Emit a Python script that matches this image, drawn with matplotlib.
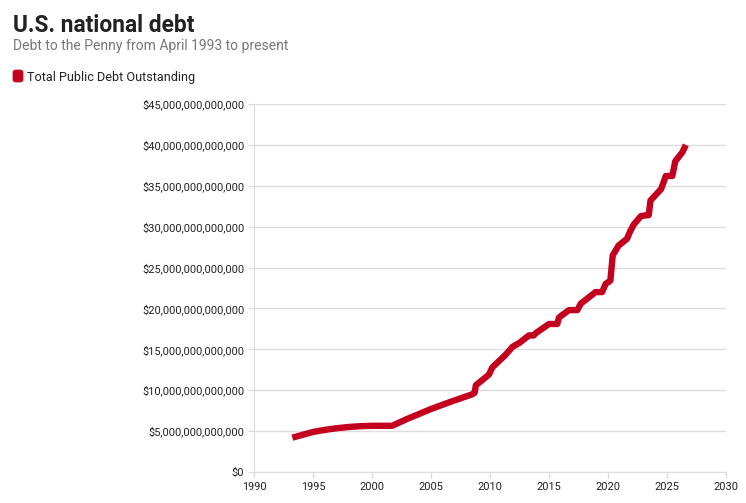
import matplotlib
matplotlib.use("Agg")
import matplotlib.pyplot as plt
from matplotlib.patches import FancyBboxPatch
from matplotlib.ticker import FuncFormatter, MultipleLocator

# Data (year, trillions of dollars)
years = [1993.25, 1995.0, 1996.0, 1997.0, 1998.0, 1999.0, 2000.0, 2001.7, 2003.0,
         2005.0, 2006.8, 2008.5, 2008.7, 2008.8, 2009.9, 2010.2, 2011.3, 2011.9,
         2012.5, 2013.3, 2013.7, 2013.9, 2015.0, 2015.7, 2015.85, 2016.7, 2017.4,
         2017.7, 2018.95, 2019.5, 2019.8, 2020.2, 2020.4, 2020.9, 2021.6, 2021.9,
         2022.2, 2022.8, 2023.3, 2023.45, 2023.6, 2024.5, 2024.9, 2025.45, 2025.7,
         2026.3, 2026.6]
debt_trillions = [4.2, 4.9, 5.15, 5.35, 5.5, 5.6, 5.65, 5.65, 6.5,
                  7.7, 8.66, 9.5, 9.7, 10.6, 11.9, 12.8, 14.3, 15.3,
                  15.8, 16.7, 16.7, 17.0, 18.1, 18.1, 18.9, 19.8, 19.8,
                  20.6, 22.0, 22.0, 23.0, 23.4, 26.5, 27.7, 28.5, 29.5,
                  30.3, 31.3, 31.4, 31.4, 33.2, 34.6, 36.2, 36.2, 38.0,
                  39.1, 40.0]
debt = [v * 1e12 for v in debt_trillions]

title = "U.S. national debt"
subtitle = "Debt to the Penny from April 1993 to present"
series_name = "Total Public Debt Outstanding"

RED = "#c4001f"
FONT = ["Roboto", "DejaVu Sans"]
plt.rcParams["font.family"] = FONT

fig = plt.figure(figsize=(7.46, 5.03), dpi=100)
ax = fig.add_axes([254 / 746, 1 - 472 / 503, (726 - 254) / 746, (472 - 104) / 503])

ax.plot(years, debt, color=RED, lw=4.6, solid_capstyle="butt", solid_joinstyle="round", zorder=3)

ax.set_xlim(1990, 2030)
ax.set_ylim(0, 45e12)
ax.xaxis.set_major_locator(MultipleLocator(5))
ax.yaxis.set_major_locator(MultipleLocator(5e12))
ax.yaxis.set_major_formatter(FuncFormatter(lambda v, p: "$" + format(int(round(v)), ",")))

ax.grid(axis="y", color="#dddddd", lw=1)
ax.set_axisbelow(True)
for s in ["top", "right"]:
    ax.spines[s].set_visible(False)
ax.spines["left"].set_color("#dddddd")
ax.spines["bottom"].set_color("#dddddd")
ax.tick_params(axis="both", color="#dddddd", length=4, width=1, labelsize=7.9, labelcolor="#222222", pad=3)

fig.text(13 / 746, 1 - 32 / 503, title, fontsize=16.4, fontweight="bold", color="#222222", va="baseline")
fig.text(13 / 746, 1 - 50 / 503, subtitle, fontsize=10, color="#777777", va="baseline")

# legend
sq = FancyBboxPatch((13 / 746, 1 - 82 / 503), 10 / 746, 12 / 503,
                    boxstyle="round,pad=0,rounding_size=0.004", transform=fig.transFigure,
                    facecolor=RED, edgecolor=RED, lw=0.5)
fig.patches.append(sq)
fig.text(27 / 746, 1 - 81 / 503, series_name, fontsize=9.1, color="#222222", va="baseline")

fig.savefig("out.png", dpi=100)
